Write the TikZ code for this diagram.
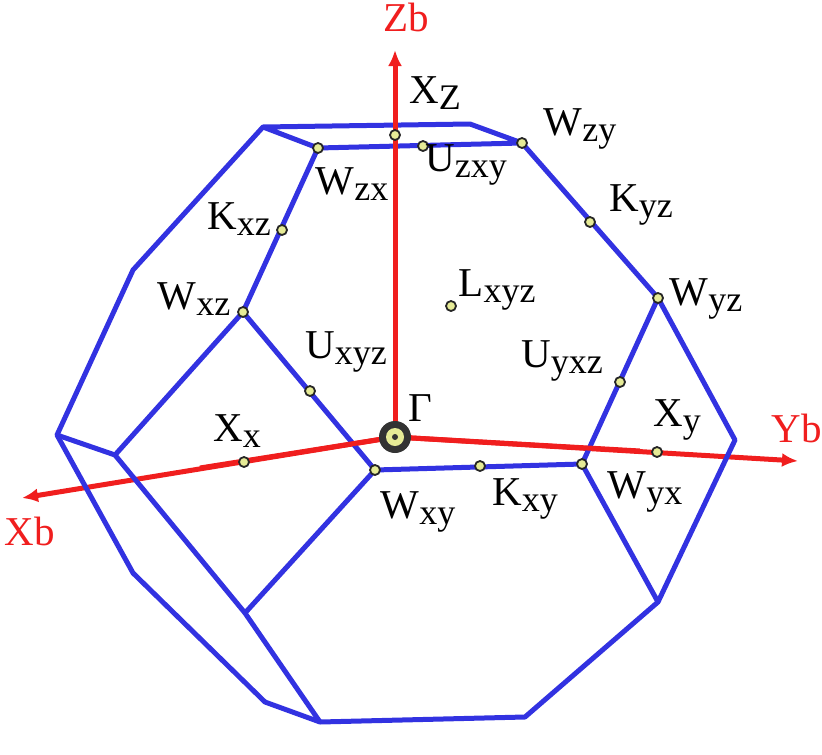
\documentclass[tikz,border=0pt]{standalone}
\usepackage{fontspec}
\setmainfont{Liberation Serif}
\usetikzlibrary{arrows.meta}
\definecolor{bz}{RGB}{50,50,225}
\definecolor{ax}{RGB}{240,30,30}
\definecolor{pt}{RGB}{230,235,150}
\newcommand{\sbs}[1]{\raisebox{-0.35ex}{\fontsize{36}{38}\selectfont #1}}
\begin{document}
\begin{tikzpicture}[x=1pt,y=-1pt,
  edge/.style={draw=bz,line width=5pt,line join=round},
  axis/.style={draw=ax,line width=5pt,-{Latex[length=16pt,width=14pt]}},
  kp/.style={circle,fill=pt,draw=black!85,line width=1.8pt,inner sep=0pt,minimum size=10pt},
  lab/.style={font=\fontsize{41}{43}\selectfont,inner sep=0pt},
  alab/.style={lab,text=ax}]
\useasboundingbox (0,0) rectangle (822,755);
\coordinate (A) at (263,127); \coordinate (B) at (470,124);
\coordinate (C) at (522,143); \coordinate (D) at (318,148);
\coordinate (E) at (133,270); \coordinate (F) at (57,435);
\coordinate (G) at (133,573); \coordinate (H) at (265,702);
\coordinate (I) at (320,722); \coordinate (J) at (525,717);
\coordinate (K) at (658,602); \coordinate (L) at (735,440);
\coordinate (M) at (658,298); \coordinate (N) at (243,312);
\coordinate (O) at (375,470); \coordinate (P) at (582,464);
\coordinate (Q) at (115,455); \coordinate (R) at (245,613);
\coordinate (Gm) at (395,437);
\path[axis] (Gm) -- (395,50) coordinate (zb);
\path[axis] (Gm) -- (22,498) coordinate (xb);
\path[axis] (Gm) -- (798,461) coordinate (yb);
\path[edge] (A)--(B)--(C)--(D)--cycle;
\path[edge] (A)--(E)--(F)--(G)--(H)--(I)--(J)--(K)--(L)--(M)--(C);
\path[edge] (D)--(N)--(O)--(P)--(M);
\path[edge] (N)--(Q)--(R)--(O);
\path[edge] (F)--(Q);
\path[edge] (R)--(I);
\path[edge] (P)--(K);
\path[draw=ax,line width=5pt] (Gm) -- (395,120);
\path[draw=ax,line width=5pt] (Gm) -- (200,468);
\path[draw=ax,line width=5pt] (Gm) -- (640,451);
\node[kp] (Xz) at (395,135) {};
\node[kp] (Uzxy) at (423,146) {};
\node[kp] (Wzy) at (522,143) {};
\node[kp] (Wzx) at (318,148) {};
\node[kp] (Kxz) at (282,230) {};
\node[kp] (Kyz) at (590,222) {};
\node[kp] (Wyz) at (658,298) {};
\node[kp] (Lxyz) at (451,306) {};
\node[kp] (Wxz) at (243,312) {};
\node[kp] (Uxyz) at (310,391) {};
\node[kp] (Uyxz) at (620,382) {};
\node[kp] (Xx) at (244,462) {};
\node[kp] (Xy) at (657,452) {};
\node[kp] (Wxy) at (375,470) {};
\node[kp] (Kxy) at (480,466) {};
\node[kp] (Wyx) at (582,464) {};
\node[circle,fill=black!80,minimum size=32pt,inner sep=0pt] (G0) at (Gm) {};
\node[circle,fill=pt,minimum size=18pt,inner sep=0pt] at (Gm) {};
\node[circle,fill=black!80,minimum size=6pt,inner sep=0pt] at (Gm) {};
\node[alab] (lzb) at (406,17) {Zb};
\node[alab] (lxb) at (30,531) {Xb};
\node[alab] (lyb) at (797,428) {Yb};
\node[lab] at (420,408) {Γ};
\node[lab] at (435,93) {X\sbs{Z}};
\node[lab] at (580,129) {W\sbs{zy}};
\node[lab] at (641,205) {K\sbs{yz}};
\node[lab] at (706,299) {W\sbs{yz}};
\node[lab] at (497,290) {L\sbs{xyz}};
\node[lab] at (562,361) {U\sbs{yxz}};
\node[lab] at (677,420) {X\sbs{y}};
\node[lab] at (645,492) {W\sbs{yx}};
\node[lab] at (525,499) {K\sbs{xy}};
\node[lab] at (418,512) {W\sbs{xy}};
\node[lab] at (237,431) {X\sbs{x}};
\node[lab] at (346,352) {U\sbs{xyz}};
\node[lab] at (194,299) {W\sbs{xz}};
\node[lab] at (239,219) {K\sbs{xz}};
\node[lab] at (352,184) {W\sbs{zx}};
\node[lab] at (466,165) {U\sbs{zxy}};
\end{tikzpicture}
\end{document}
